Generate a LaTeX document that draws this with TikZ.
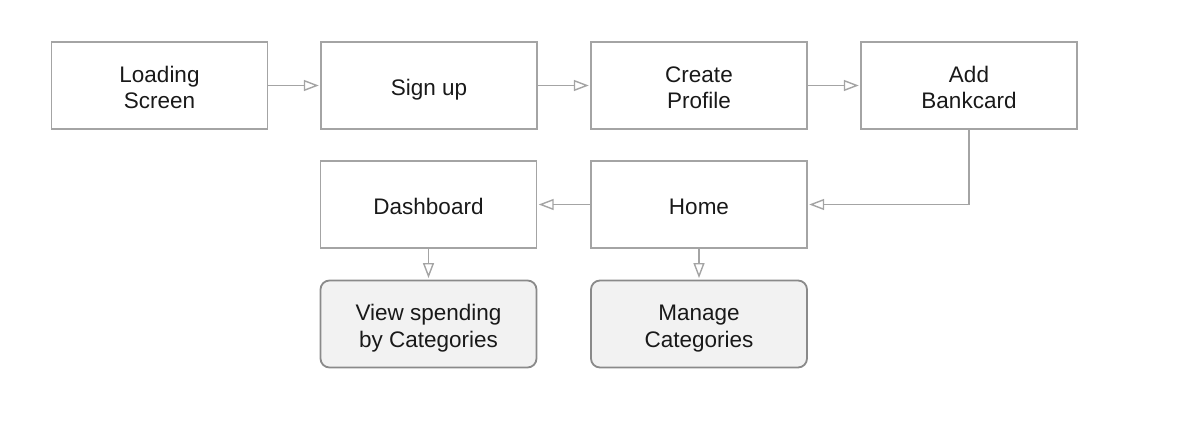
\documentclass[tikz,border=0pt]{standalone}
\usepackage{fontspec}
\setmainfont{Liberation Sans}
\usetikzlibrary{arrows.meta}
\definecolor{edge}{HTML}{A4A4A4}
\definecolor{redge}{HTML}{8A8A8A}
\definecolor{rfill}{HTML}{F2F2F2}
\newcommand\twol[2]{\begin{tabular}[b]{@{}c@{}}#1\\#2\end{tabular}}
\tikzset{
  box/.style={draw=edge, line width=1.4pt, minimum width=216pt, minimum height=87pt, inner sep=0pt,
    font=\fontsize{22.5}{26.5}\selectfont, text=black!90, text height=20pt, text depth=0pt},
  two/.style={text height=46.5pt},
  rbox/.style={box, draw=redge, fill=rfill, rounded corners=9pt, line width=1.8pt},
  conn/.style={draw=edge, line width=1.4pt, -{Triangle[open, length=15pt, width=11pt]}, shorten >=1.5pt}
}
\begin{document}
\begin{tikzpicture}[x=1pt,y=-1pt]
\useasboundingbox (0,0) rectangle (1200,446);
\node[box,two] (load) at (159.5,85.5) {\twol{Loading}{Screen}};
\node[box] (sign) at (429,85.5) {Sign up};
\node[box,two] (create) at (699,85.5) {\twol{Create}{Profile}};
\node[box,two] (add) at (969,85.5) {\twol{Add}{Bankcard}};
\node[box] (dash) at (428.5,204.5) {Dashboard};
\node[box] (home) at (699,204.5) {Home};
\node[rbox,two] (view) at (428.5,324) {\twol{View spending}{by Categories}};
\node[rbox,two] (manage) at (699,324) {\twol{Manage}{Categories}};
\draw[conn] (load) -- (sign);
\draw[conn] (sign) -- (create);
\draw[conn] (create) -- (add);
\draw[conn] (add.south) |- (home.east);
\draw[conn] (home) -- (dash);
\draw[conn] (dash) -- (view);
\draw[conn] (home) -- (manage);
\end{tikzpicture}
\end{document}
